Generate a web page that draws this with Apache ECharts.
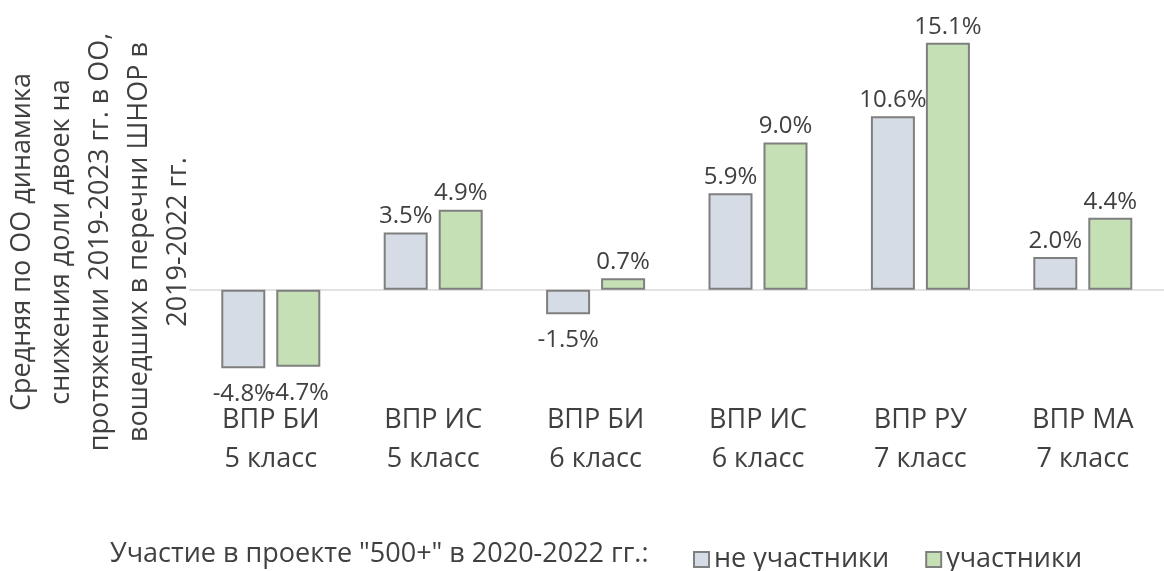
<!DOCTYPE html>
<html>
<head>
<meta charset="utf-8">
<script src="https://cdn.jsdelivr.net/npm/echarts@6/dist/echarts.min.js"></script>
<style>
  html, body { margin: 0; padding: 0; background: #fff; }
  #chart { width: 1164px; height: 571px; }
</style>
</head>
<body>
<div id="chart"></div>
<script>
// данные диаграммы
var categories = [
  "ВПР БИ\n5 класс",
  "ВПР ИС\n5 класс",
  "ВПР БИ\n6 класс",
  "ВПР ИС\n6 класс",
  "ВПР РУ\n7 класс",
  "ВПР МА\n7 класс"
];
var seriesNames = ["не участники", "участники"];
var nonParticipants = [-4.8, 3.5, -1.5, 5.9, 10.6, 2.0];
var participants = [-4.7, 4.9, 0.7, 9.0, 15.1, 4.4];
var yTitleLines = [
  "Средняя по ОО динамика",
  "снижения доли двоек на",
  "протяжении 2019-2023 гг. в ОО,",
  "вошедших в перечни ШНОР в",
  "2019-2022 гг."
];
var legendPrefix = 'Участие в проекте "500+" в 2020-2022 гг.:';

var FONT = "'Open Sans', 'Segoe UI', sans-serif";
var TEXT = "#404040";

// положительные подписи сверху, отрицательные снизу
function toItems(values) {
  return values.map(function(v) {
    return {
      value: v,
      label: v < 0 ? { position: "bottom", distance: 14 } : { position: "top", distance: 4 }
    };
  });
}

function barSeries(name, values, color) {
  return {
    name: name,
    type: "bar",
    barWidth: 44,
    barGap: "25%",
    itemStyle: {
      color: color,
      borderColor: "#7F7F7F",
      borderWidth: 2
    },
    label: {
      show: true,
      fontFamily: FONT,
      fontSize: 24,
      color: TEXT,
      formatter: function(p) {
        return p.value.toFixed(1) + "%";
      }
    },
    data: toItems(values)
  };
}

var chart = echarts.init(document.getElementById("chart"));
chart.setOption({
  backgroundColor: "#fff",
  animation: false,
  textStyle: { fontFamily: FONT },
  grid: {
    left: 189.6,
    right: -9,
    top: 28,
    height: 360,
    containLabel: false
  },
  legend: {
    data: seriesNames,
    left: 688,
    top: 541,
    icon: "rect",
    itemWidth: 15,
    itemHeight: 15,
    itemGap: 36,
    textStyle: {
      fontFamily: FONT,
      fontSize: 27,
      color: TEXT
    }
  },
  xAxis: {
    type: "category",
    data: categories,
    axisTick: { show: false },
    axisLine: {
      show: true,
      onZero: true,
      lineStyle: { color: "#D9D9D9", width: 1.5 }
    },
    axisLabel: {
      fontFamily: FONT,
      fontSize: 27,
      lineHeight: 39,
      margin: 13,
      color: TEXT
    }
  },
  yAxis: {
    type: "value",
    min: -6,
    max: 16,
    interval: 2,
    axisLine: { show: false },
    axisTick: { show: false },
    axisLabel: { show: false },
    splitLine: { show: false }
  },
  graphic: [
    {
      type: "text",
      x: 100,
      y: 242,
      rotation: Math.PI / 2,
      style: {
        text: yTitleLines.join("\n"),
        align: "center",
        verticalAlign: "middle",
        lineHeight: 39,
        fontFamily: FONT,
        fontSize: 27,
        fill: TEXT
      }
    },
    {
      type: "text",
      x: 110,
      y: 554,
      style: {
        text: legendPrefix,
        align: "left",
        verticalAlign: "middle",
        fontFamily: FONT,
        fontSize: 27,
        fill: TEXT
      }
    }
  ],
  series: [
    barSeries(seriesNames[0], nonParticipants, "#D6DCE5"),
    barSeries(seriesNames[1], participants, "#C5E0B4")
  ]
});
</script>
</body>
</html>
